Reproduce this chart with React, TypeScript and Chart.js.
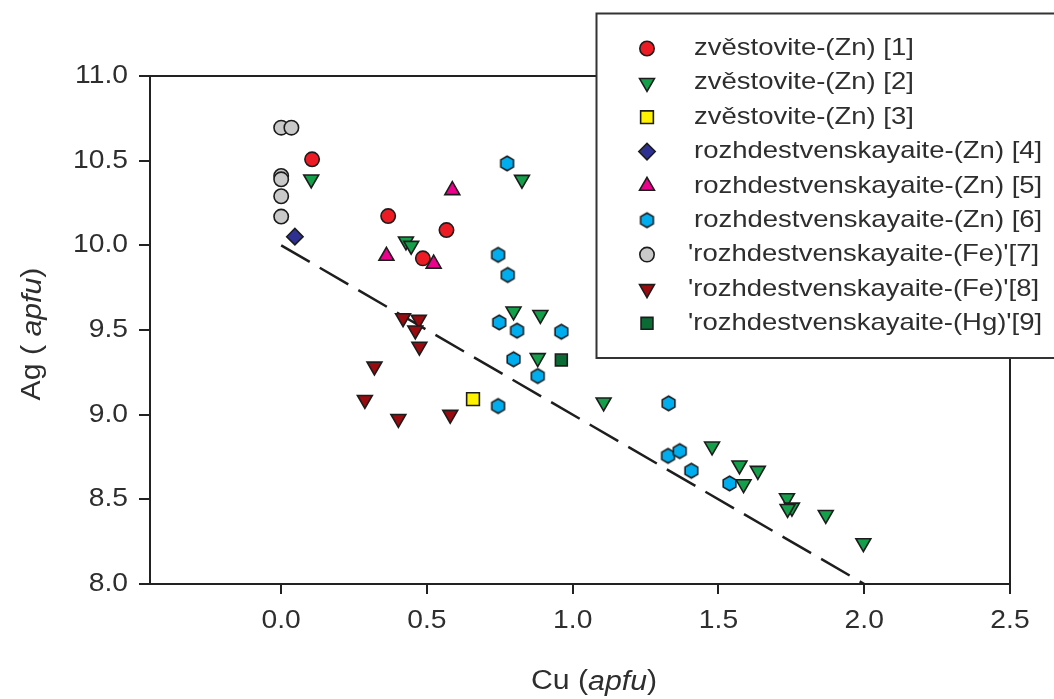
import React, { useEffect, useRef } from 'react';
import { Chart, registerables } from 'chart.js';
import { drawPoint } from 'chart.js/helpers';

Chart.register(...registerables);

// ---------- data ----------
const X_TICKS = [0, 0.5, 1.0, 1.5, 2.0, 2.5];
const Y_TICKS = [8.0, 8.5, 9.0, 9.5, 10.0, 10.5, 11.0];

const SERIES_LABELS = [
  'zvěstovite-(Zn) [1]',
  'zvěstovite-(Zn) [2]',
  'zvěstovite-(Zn) [3]',
  'rozhdestvenskayaite-(Zn) [4]',
  'rozhdestvenskayaite-(Zn) [5]',
  'rozhdestvenskayaite-(Zn) [6]',
  "'rozhdestvenskayaite-(Fe)'[7]",
  "'rozhdestvenskayaite-(Fe)'[8]",
  "'rozhdestvenskayaite-(Hg)'[9]",
];

// [Cu apfu, Ag apfu]
const S1 = [[0.106, 10.508], [0.367, 10.173], [0.567, 10.09], [0.486, 9.923]];
const S2 = [
  [0.103, 10.39], [0.428, 10.024], [0.446, 9.998], [0.826, 10.388], [0.797, 9.61],
  [0.889, 9.59], [0.88, 9.335], [1.106, 9.073], [1.478, 8.813], [1.572, 8.701],
  [1.635, 8.669], [1.586, 8.59], [1.735, 8.508], [1.752, 8.452], [1.737, 8.444],
  [1.868, 8.409], [1.997, 8.242],
];
const S3 = [[0.658, 9.092]];
const S4 = [[0.047, 10.051]];
const S5 = [[0.587, 10.325], [0.361, 9.937], [0.523, 9.891]];
const S6 = [
  [0.775, 10.484], [0.744, 9.944], [0.777, 9.825], [0.748, 9.545], [0.809, 9.496],
  [0.961, 9.49], [0.797, 9.327], [0.88, 9.228], [0.744, 9.051], [1.329, 9.067],
  [1.327, 8.757], [1.367, 8.785], [1.407, 8.669], [1.538, 8.594],
];
const S7 = [[0.0, 10.695], [0.035, 10.695], [0.0, 10.41], [0.0, 10.39], [0.0, 10.29], [0.0, 10.17]];
const S8 = [
  [0.418, 9.571], [0.472, 9.561], [0.46, 9.498], [0.474, 9.402],
  [0.32, 9.285], [0.287, 9.088], [0.402, 8.976], [0.58, 9.0],
];
const S9 = [[0.961, 9.323]];
const TREND = [[0.0, 10.0], [2.0, 8.0]];

const SERIES_DATA = [S1, S2, S3, S4, S5, S6, S7, S8, S9];

// ---------- styles ----------
const FILLS = ['#ED1C24', '#14A04A', '#FFF200', '#2E3192', '#EC008C', '#00AEEF', '#C9C9C9', '#9A0B10', '#0B6B35'];
const STROKE = '#1c1c1c';
const TEXT = '#2e2e2e';
const FONT = "'Liberation Sans', Arial, Helvetica, sans-serif";
const STRETCH = 1.13;

function makeHexagon(r: number, fill: string) {
  const size = Math.ceil(2 * r + 4);
  const c = document.createElement('canvas');
  c.width = size;
  c.height = size;
  const g = c.getContext('2d')!;
  const cx = size / 2;
  const cy = size / 2;
  g.beginPath();
  for (let i = 0; i < 6; i++) {
    const a = Math.PI / 2 + (i * Math.PI) / 3;
    const px = cx + r * Math.cos(a);
    const py = cy - r * Math.sin(a);
    if (i === 0) g.moveTo(px, py);
    else g.lineTo(px, py);
  }
  g.closePath();
  g.fillStyle = fill;
  g.fill();
  g.lineWidth = 1.6;
  g.strokeStyle = STROKE;
  g.stroke();
  return c;
}

export default function App() {
  const ref = useRef<HTMLCanvasElement | null>(null);

  useEffect(() => {
    const hex = makeHexagon(7.3, FILLS[5]);
    const markers: any[] = [
      { pointStyle: 'circle', radius: 7.2, rotation: 0 },
      { pointStyle: 'triangle', radius: 8.6, rotation: 180 },
      { pointStyle: 'rect', radius: 9, rotation: 0 },
      { pointStyle: 'rectRot', radius: 8.2, rotation: 0 },
      { pointStyle: 'triangle', radius: 8.6, rotation: 0 },
      { pointStyle: hex, radius: 7.3, rotation: 0 },
      { pointStyle: 'circle', radius: 7.2, rotation: 0 },
      { pointStyle: 'triangle', radius: 8.6, rotation: 180 },
      { pointStyle: 'rect', radius: 8.4, rotation: 0 },
    ];

    const datasets: any[] = SERIES_DATA.map((pts, i) => ({
      label: SERIES_LABELS[i],
      data: pts.map(([x, y]) => ({ x, y })),
      pointStyle: markers[i].pointStyle,
      pointRadius: markers[i].radius,
      pointRotation: markers[i].rotation,
      pointBackgroundColor: FILLS[i],
      pointBorderColor: STROKE,
      pointBorderWidth: 1.6,
      showLine: false,
      order: 0,
    }));
    datasets.push({
      label: 'trend',
      data: TREND.map(([x, y]) => ({ x, y })),
      showLine: true,
      borderColor: '#1e1e1e',
      borderWidth: 2.5,
      borderDash: [33, 11.6],
      pointRadius: 0,
      fill: false,
      order: 10,
    });

    const drawMixed = (ctx: CanvasRenderingContext2D, parts: [string, boolean][], size: number) => {
      const fonts = parts.map(([, it]) => `${it ? 'italic ' : ''}${size}px ${FONT}`);
      const widths = parts.map(([t], i) => {
        ctx.font = fonts[i];
        return ctx.measureText(t).width;
      });
      const total = widths.reduce((a, b) => a + b, 0);
      let x = -total / 2;
      parts.forEach(([t], i) => {
        ctx.font = fonts[i];
        ctx.fillText(t, x, 0);
        x += widths[i];
      });
    };

    const custom = {
      id: 'custom',
      beforeDraw(chart: any) {
        const ctx = chart.ctx;
        const orig = CanvasRenderingContext2D.prototype.fillText;
        ctx.fillText = function (t: string, x: number, y: number, mw?: number) {
          this.save();
          this.translate(x, y);
          this.scale(STRETCH, 1);
          if (mw !== undefined) orig.call(this, t, 0, 0, mw);
          else orig.call(this, t, 0, 0);
          this.restore();
        };
      },
      afterDraw(chart: any) {
        const ctx: CanvasRenderingContext2D = chart.ctx;
        delete (ctx as any).fillText;
        const a = chart.chartArea;
        ctx.save();
        // frame top / right
        ctx.strokeStyle = '#222222';
        ctx.lineWidth = 2;
        ctx.beginPath();
        ctx.moveTo(a.left, a.top);
        ctx.lineTo(a.right, a.top);
        ctx.lineTo(a.right, a.bottom);
        ctx.stroke();

        // legend box
        ctx.fillStyle = '#ffffff';
        ctx.fillRect(596.5, 13.5, 470, 344.5);
        ctx.strokeStyle = '#333333';
        ctx.lineWidth = 2;
        ctx.strokeRect(596.5, 13.5, 470, 344.5);

        SERIES_LABELS.forEach((label, i) => {
          const y = 48.5 + i * 34.35;
          ctx.fillStyle = FILLS[i];
          ctx.strokeStyle = STROKE;
          ctx.lineWidth = 1.6;
          drawPoint(ctx, { pointStyle: markers[i].pointStyle, radius: markers[i].radius, rotation: markers[i].rotation, borderWidth: 1.6 } as any, 647, y);
          ctx.save();
          const tx = label.startsWith("'") ? 688 : 694;
          ctx.translate(tx, y);
          ctx.scale(1.145, 1);
          ctx.fillStyle = TEXT;
          ctx.font = `24px ${FONT}`;
          ctx.textAlign = 'left';
          ctx.textBaseline = 'middle';
          ctx.fillText(label, 0, 0);
          ctx.restore();
        });

        // axis titles
        ctx.fillStyle = TEXT;
        ctx.textAlign = 'left';
        ctx.textBaseline = 'middle';
        ctx.save();
        ctx.translate(594, 682);
        ctx.scale(1.12, 1);
        drawMixed(ctx, [['Cu (', false], ['apfu', true], [')', false]], 27);
        ctx.restore();

        ctx.save();
        ctx.translate(33, 334);
        ctx.rotate(-Math.PI / 2);
        ctx.scale(1.12, 1);
        drawMixed(ctx, [['Ag ( ', false], ['apfu', true], [')', false]], 27);
        ctx.restore();
        ctx.restore();
      },
    };

    const chart = new Chart(ref.current!, {
      type: 'scatter',
      data: { datasets },
      plugins: [custom],
      options: {
        animation: false,
        responsive: true,
        maintainAspectRatio: false,
        layout: { padding: { top: 76, right: 44, left: 0, bottom: 0 } },
        plugins: { legend: { display: false }, tooltip: { enabled: false } },
        scales: {
          x: {
            type: 'linear',
            min: -0.45,
            max: 2.5,
            afterBuildTicks: (s: any) => {
              s.ticks = X_TICKS.map((v) => ({ value: v }));
            },
            afterFit: (s: any) => {
              s.height = 115;
            },
            grid: { drawOnChartArea: false, drawTicks: true, tickLength: 10, color: '#222222', lineWidth: 2 },
            border: { display: true, color: '#222222', width: 2 },
            ticks: {
              color: TEXT,
              font: { family: FONT, size: 25 },
              padding: 12,
              maxRotation: 0,
              autoSkip: false,
              callback: (v: any) => Number(v).toFixed(1),
            },
          },
          y: {
            type: 'linear',
            min: 8,
            max: 11,
            afterBuildTicks: (s: any) => {
              s.ticks = Y_TICKS.map((v) => ({ value: v }));
            },
            afterFit: (s: any) => {
              s.width = 150;
            },
            grid: { drawOnChartArea: false, drawTicks: true, tickLength: 11, color: '#222222', lineWidth: 2 },
            border: { display: true, color: '#222222', width: 2 },
            ticks: {
              color: TEXT,
              font: { family: FONT, size: 25 },
              padding: 11,
              autoSkip: false,
              callback: (v: any) => Number(v).toFixed(1),
            },
          },
        },
      } as any,
    });
    return () => chart.destroy();
  }, []);

  return (
    <div style={{ position: 'fixed', left: 0, top: 0, width: 1054, height: 699, background: '#ffffff' }}>
      <canvas ref={ref} />
    </div>
  );
}
